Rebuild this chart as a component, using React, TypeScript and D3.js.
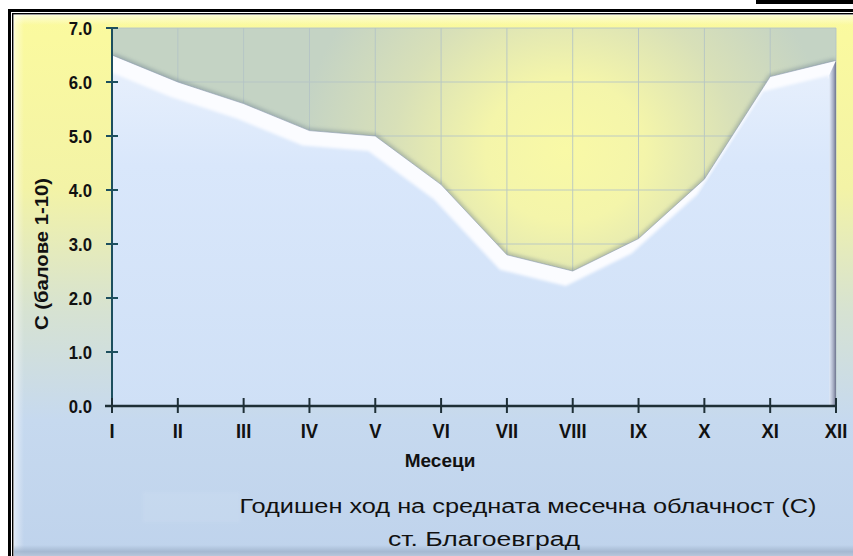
import React from "react";
import * as d3 from "d3";

// Monthly mean cloudiness, station Blagoevgrad (scale 1-10)
const months = ["I", "II", "III", "IV", "V", "VI", "VII", "VIII", "IX", "X", "XI", "XII"];
const cloudiness = [6.5, 6.0, 5.6, 5.1, 5.0, 4.1, 2.8, 2.5, 3.1, 4.2, 6.1, 6.4];
const yTicks = [0, 1, 2, 3, 4, 5, 6, 7];
const titleLines = ["Годишен ход на средната месечна облачност (С)", "ст. Благоевград"];
const xTitle = "Месеци";
const yTitle = "С (балове 1-10)";

const W = 853;
const H = 556;
const plot = { left: 112, right: 836, top: 28, bottom: 406 };
// offset of the front edge of the 3D ribbon relative to its back edge
const depth = { dx: -7, dy: 15 };
const FONT = "'Liberation Sans', Arial, sans-serif";

export default function App() {
  const x = d3.scalePoint<string>().domain(months).range([plot.left, plot.right]);
  const y = d3.scaleLinear().domain([0, 7]).range([plot.bottom, plot.top]);

  const back: [number, number][] = months.map((m, i) => [x(m) as number, y(cloudiness[i])]);
  const front: [number, number][] = back.map(([px, py]) => [px + depth.dx, py + depth.dy]);

  const areaGen = d3
    .area<[number, number]>()
    .x((d) => d[0])
    .y0(plot.bottom)
    .y1((d) => d[1]);
  const lineGen = d3.line<[number, number]>();

  const backArea = areaGen(back) as string;
  const frontArea = areaGen(front) as string;
  const backLine = lineGen(back) as string;

  const last = back[back.length - 1];
  const lastFront = front[front.length - 1];
  const endFace = `M${last[0]},${last[1]}L${lastFront[0]},${lastFront[1]}L${lastFront[0]},${plot.bottom}L${last[0]},${plot.bottom}Z`;

  const pw = plot.right - plot.left;
  const ph = plot.bottom - plot.top;

  return (
    <svg
      width={W}
      height={H}
      viewBox={`0 0 ${W} ${H}`}
      style={{ position: "absolute", left: 0, top: 0, display: "block" }}
    >
      <defs>
        <linearGradient id="bg" x1="0" y1="0" x2="0" y2="1">
          <stop offset="0" stopColor="#fbfa9e" />
          <stop offset="0.32" stopColor="#f3f3a6" />
          <stop offset="0.55" stopColor="#d6e2d2" />
          <stop offset="0.75" stopColor="#c6d9ef" />
          <stop offset="1" stopColor="#bfd3ec" />
        </linearGradient>
        <linearGradient id="bevelTop" x1="0" y1="0" x2="0" y2="1">
          <stop offset="0" stopColor="#ffffff" stopOpacity="0.55" />
          <stop offset="1" stopColor="#ffffff" stopOpacity="0" />
        </linearGradient>
        <linearGradient id="bevelLeft" x1="0" y1="0" x2="1" y2="0">
          <stop offset="0" stopColor="#ffffff" stopOpacity="0.5" />
          <stop offset="1" stopColor="#ffffff" stopOpacity="0" />
        </linearGradient>
        <linearGradient id="bevelBottom" x1="0" y1="0" x2="0" y2="1">
          <stop offset="0" stopColor="#9fb2cb" stopOpacity="0" />
          <stop offset="0.6" stopColor="#9fb2cb" stopOpacity="0.8" />
          <stop offset="1" stopColor="#b7c6da" stopOpacity="0.9" />
        </linearGradient>
        <radialGradient
          id="glow"
          gradientUnits="userSpaceOnUse"
          cx="565"
          cy="150"
          r="240"
          gradientTransform="translate(565 150) scale(1.1 1) translate(-565 -150)"
        >
          <stop offset="0" stopColor="#f9f9a6" />
          <stop offset="0.3" stopColor="#f4f5aa" />
          <stop offset="0.65" stopColor="#d8e0b8" />
          <stop offset="1" stopColor="#c4d3c4" />
        </radialGradient>
        <linearGradient id="frontFace" gradientUnits="userSpaceOnUse" x1="0" y1={plot.top + 30} x2="0" y2={plot.bottom}>
          <stop offset="0" stopColor="#e8f0fc" />
          <stop offset="0.3" stopColor="#d9e7fb" />
          <stop offset="1" stopColor="#cfe0f6" />
        </linearGradient>
        <linearGradient id="endFace" x1="0" y1="0" x2="1" y2="0">
          <stop offset="0" stopColor="#e4ecf8" />
          <stop offset="0.6" stopColor="#a9b0c6" />
          <stop offset="1" stopColor="#6f768f" />
        </linearGradient>
        <clipPath id="wallClip">
          <rect x={plot.left + 1} y={plot.top} width={pw - 1} height={ph} />
        </clipPath>
        <filter id="soft" x="-5%" y="-5%" width="110%" height="110%">
          <feGaussianBlur stdDeviation="1.8" />
        </filter>
        <filter id="shadowBlur" x="-5%" y="-10%" width="110%" height="120%">
          <feGaussianBlur stdDeviation="2" />
        </filter>
      </defs>

      {/* chart area */}
      <rect x={0} y={0} width={W} height={H} fill="#ffffff" />
      <rect x={14} y={15} width={W - 14} height={H - 15} fill="url(#bg)" />
      <rect x={14} y={15} width={W - 14} height={10} fill="url(#bevelTop)" />
      <rect x={14} y={15} width={10} height={H - 15} fill="url(#bevelLeft)" />
      <rect x={14} y={H - 11} width={W - 14} height={11} fill="url(#bevelBottom)" />
      <rect x={143} y={492} width={97} height={30} fill="#ffffff" opacity={0.07} filter="url(#soft)" />

      {/* frame */}
      <rect x={756} y={0} width={W - 756} height={4} fill="#000" />
      <rect x={8} y={9} width={W - 8} height={3} fill="#000" />
      <rect x={8} y={9} width={3} height={H - 9} fill="#000" />
      <rect x={12} y={13} width={W - 12} height={1.4} fill="#000" />
      <rect x={12} y={13} width={1.4} height={H - 13} fill="#000" />

      {/* back wall */}
      <rect x={plot.left} y={plot.top} width={pw} height={ph} fill="url(#glow)" />
      <g stroke="#b3c3c6" strokeWidth={1} opacity={0.85}>
        {yTicks.slice(1).map((t) => (
          <line key={`gy${t}`} x1={plot.left} x2={plot.right} y1={y(t)} y2={y(t)} />
        ))}
        {months.slice(1).map((m) => (
          <line key={`gx${m}`} x1={x(m)} x2={x(m)} y1={plot.top} y2={plot.bottom} />
        ))}
      </g>

      {/* 3D area ribbon */}
      <g clipPath="url(#wallClip)">
        <path d={backLine} fill="none" stroke="#5f7385" strokeWidth={3} opacity={0.6} filter="url(#shadowBlur)" />
        <path d={backArea} fill="#fbfcff" />
        <path d={backLine} fill="none" stroke="#8b9aae" strokeWidth={1} opacity={0.6} />
        <path d={endFace} fill="url(#endFace)" />
        <path d={frontArea} fill="url(#frontFace)" filter="url(#soft)" />
        <path d={frontArea} fill="url(#frontFace)" transform="translate(0 3)" />
      </g>

      {/* value axis */}
      <line x1={plot.left} x2={plot.left} y1={plot.top} y2={plot.bottom} stroke="#1d4f5e" strokeWidth={2} />
      {yTicks.map((t) => (
        <g key={`yt${t}`}>
          <line x1={plot.left - 6} x2={plot.left + 6} y1={y(t)} y2={y(t)} stroke="#1d4f5e" strokeWidth={2} />
          <text
            transform={`translate(92 ${y(t) + 6.5}) scale(0.88 1)`}
            textAnchor="end"
            fontFamily={FONT}
            fontWeight="bold"
            fontSize={19}
            fill="#111"
          >
            {t.toFixed(1)}
          </text>
        </g>
      ))}

      {/* category axis */}
      <line x1={plot.left - 7} x2={plot.right + 1} y1={plot.bottom} y2={plot.bottom} stroke="#1e2f36" strokeWidth={2.5} />
      {months.map((m) => (
        <g key={`xt${m}`}>
          <line x1={x(m)} x2={x(m)} y1={plot.bottom - 8} y2={plot.bottom + 7} stroke="#1e2f36" strokeWidth={2} />
          <text
            transform={`translate(${x(m)} 438) scale(0.92 1)`}
            textAnchor="middle"
            fontFamily={FONT}
            fontWeight="bold"
            fontSize={20}
            fill="#111"
          >
            {m}
          </text>
        </g>
      ))}

      {/* axis titles */}
      <text x={440} y={467} textAnchor="middle" fontFamily={FONT} fontWeight="bold" fontSize={19} fill="#111">
        {xTitle}
      </text>
      <text
        transform={`translate(48 254) rotate(-90)`}
        textAnchor="middle"
        fontFamily={FONT}
        fontWeight="bold"
        fontSize={19}
        fill="#111"
        textLength={152}
        lengthAdjust="spacingAndGlyphs"
      >
        {yTitle}
      </text>

      {/* chart title */}
      <text
        x={528}
        y={513}
        textAnchor="middle"
        fontFamily={FONT}
        fontSize={20}
        fill="#111"
        textLength={577}
        lengthAdjust="spacingAndGlyphs"
      >
        {titleLines[0]}
      </text>
      <text
        x={484}
        y={546}
        textAnchor="middle"
        fontFamily={FONT}
        fontSize={20}
        fill="#111"
        textLength={192}
        lengthAdjust="spacingAndGlyphs"
      >
        {titleLines[1]}
      </text>
    </svg>
  );
}
